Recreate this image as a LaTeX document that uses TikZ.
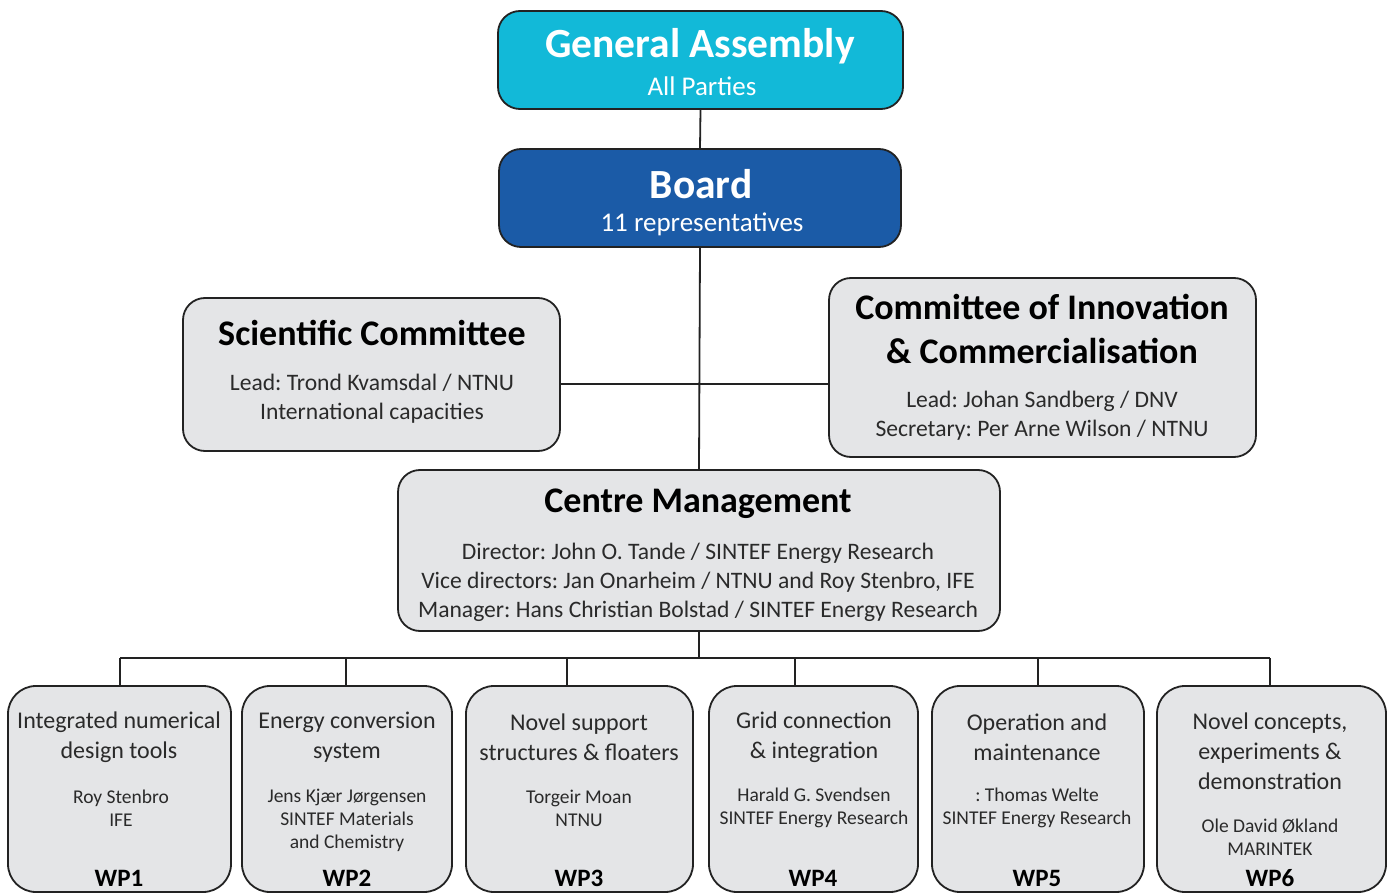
\documentclass[tikz,border=0pt]{standalone}
\usepackage{fontspec}
\setmainfont{Carlito}
\frenchspacing
\definecolor{gaC}{HTML}{12B9D8}
\definecolor{boardC}{HTML}{1B5BA7}
\definecolor{greyC}{HTML}{E4E5E7}
\definecolor{lineC}{HTML}{222222}
\definecolor{textC}{HTML}{2A2A2A}
\begin{document}
\begin{tikzpicture}[x=1pt,y=-1pt,
  box/.style={draw=lineC, line width=1.8pt, rounded corners=22pt, fill=greyC, inner sep=0pt},
  wpbox/.style={box, rounded corners=28pt, minimum height=206pt},
  conn/.style={draw=lineC, line width=1.8pt},
  head/.style={font=\bfseries\fontsize{36}{44}\selectfont, text=black, align=center, inner sep=0pt},
  body/.style={font=\fontsize{23.6}{29}\selectfont, text=textC, align=center, inner sep=0pt},
  wptitle/.style={font=\fontsize{24}{30}\selectfont, text=textC, align=center, inner sep=0pt},
  wpname/.style={font=\fontsize{19.5}{23}\selectfont, text=textC, align=center, inner sep=0pt},
  wplabel/.style={font=\bfseries\fontsize{25}{30}\selectfont, text=black, inner sep=0pt}]
\useasboundingbox (0,0) rectangle (1395,893);
% boxes
\node[box, fill=gaC, minimum width=405pt, minimum height=98pt] (ga) at (700.5,60) {};
\node[box, fill=boardC, minimum width=402pt, minimum height=98pt] (board) at (700,198) {};
\node[box, minimum width=377pt, minimum height=153pt] (sc) at (371.5,374.5) {};
\node[box, minimum width=427pt, minimum height=179pt] (ci) at (1042.5,367.5) {};
\node[box, minimum width=602pt, minimum height=161pt] (cm) at (699,550.5) {};
\node[wpbox, minimum width=223pt] (wp1) at (119.5,789) {};
\node[wpbox, minimum width=210pt] (wp2) at (347,789) {};
\node[wpbox, minimum width=227pt] (wp3) at (579.5,789) {};
\node[wpbox, minimum width=209pt] (wp4) at (813.5,789) {};
\node[wpbox, minimum width=212pt] (wp5) at (1038,789) {};
\node[wpbox, minimum width=229pt] (wp6) at (1271.5,789) {};
% connectors
\coordinate (bar) at (700,384);
\coordinate (b1) at (120,658);
\coordinate (b2) at (346,658);
\coordinate (b3) at (567,658);
\coordinate (b4) at (795,658);
\coordinate (b5) at (1038,658);
\coordinate (b6) at (1270,658);
\draw[conn] (ga.south) -- (board.north);
\draw[conn] (board.south) -- (cm.north);
\draw[conn] (sc.east |- bar) -- (ci.west |- bar);
\draw[conn] (cm.south) -- (cm.south |- b1);
\draw[conn] (b1) -- (b6);
\foreach \i in {1,...,6} {\draw[conn] (b\i) -- (b\i |- wp\i.north);}
% texts
\node[head, text=white, font=\bfseries\fontsize{41.5}{44}\selectfont] (gat) at (700,46) {General Assembly};
\node[body, text=white, font=\fontsize{27}{30}\selectfont] (gas) at (702,86) {All Parties};
\node[head, text=white, font=\bfseries\fontsize{41.5}{44}\selectfont] (bt) at (701,184) {Board};
\node[body, text=white, font=\fontsize{27}{30}\selectfont] (bs) at (702,224) {11 representatives};
\node[head] (sct) at (372,333) {Scientific Committee};
\node[body] (scb) at (372,399) {Lead: Trond Kvamsdal / NTNU\\International capacities};
\node[head] (cit) at (1042,329) {Committee of Innovation\\\& Commercialisation};
\node[body] (cib) at (1042,416) {Lead: Johan Sandberg / DNV\\Secretary: Per Arne Wilson / NTNU};
\node[head] (cmt) at (698,504) {Centre Management};
\node[body] (cmb) at (698,582) {Director: John O. Tande / SINTEF Energy Research\\Vice directors: Jan Onarheim / NTNU and Roy Stenbro, IFE\\Manager: Hans Christian Bolstad / SINTEF Energy Research};
% WP texts
\node[wptitle] (w1t) at (119,737) {Integrated numerical\\design tools};
\node[wpname] (w1n) at (121,808) {Roy Stenbro\\IFE};
\node[wplabel] (w1l) at (119,878) {WP1};
\node[wptitle] (w2t) at (347,737) {Energy conversion\\system};
\node[wpname] (w2n) at (347,820) {Jens Kjær Jørgensen\\SINTEF Materials\\and Chemistry};
\node[wplabel] (w2l) at (347,878) {WP2};
\node[wptitle] (w3t) at (579,737) {Novel support\\structures \& floaters};
\node[wpname] (w3n) at (579,808) {Torgeir Moan\\NTNU};
\node[wplabel] (w3l) at (579,878) {WP3};
\node[wptitle] (w4t) at (814,737) {Grid connection\\\& integration};
\node[wpname] (w4n) at (814,808) {Harald G. Svendsen\\SINTEF Energy Research};
\node[wplabel] (w4l) at (813,878) {WP4};
\node[wptitle] (w5t) at (1037,737) {Operation and\\maintenance};
\node[wpname] (w5n) at (1037,808) {: Thomas Welte\\SINTEF Energy Research};
\node[wplabel] (w5l) at (1037,878) {WP5};
\node[wptitle] (w6t) at (1270,751) {Novel concepts,\\experiments \&\\demonstration};
\node[wpname] (w6n) at (1270,837) {Ole David Økland\\MARINTEK};
\node[wplabel] (w6l) at (1270,878) {WP6};
\end{tikzpicture}
\end{document}
